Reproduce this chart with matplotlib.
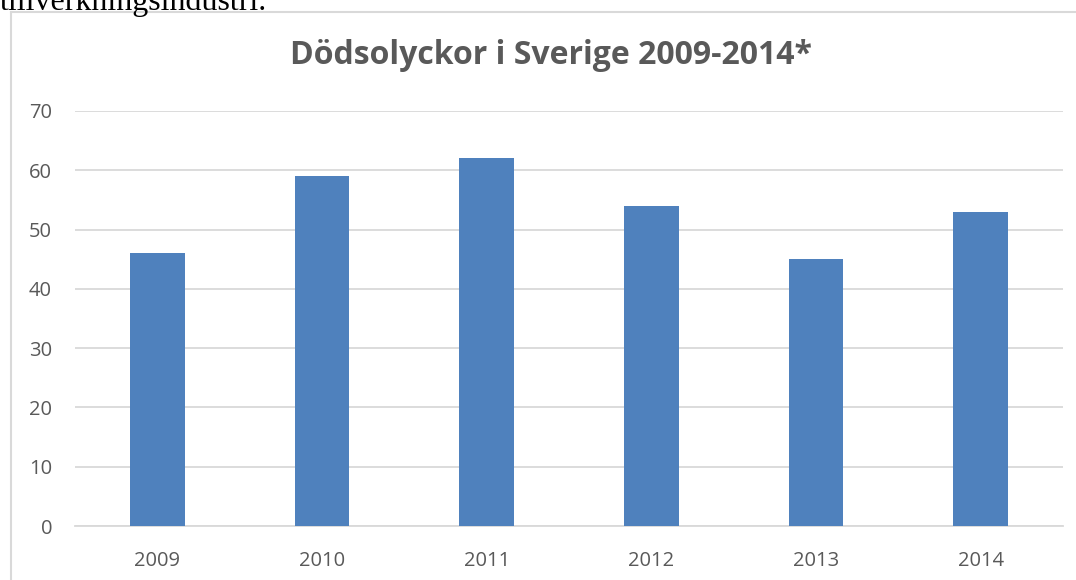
import matplotlib.pyplot as plt
from matplotlib.lines import Line2D

years = ['2009', '2010', '2011', '2012', '2013', '2014']
deaths = [46, 59, 62, 54, 45, 53]
yticks = [0, 10, 20, 30, 40, 50, 60, 70]

W, H = 1076, 580
fig = plt.figure(figsize=(W / 100, H / 100), dpi=100)

# text from the page above the chart, cut by the crop
fig.text(0 / W, 1 - 10 / H, 'tillverkningsindustri.', family='Liberation Serif',
         fontsize=23, color='black', ha='left', va='baseline')

# chart frame (only left and top edges are in view)
frame = '#D9D9D9'
fig.add_artist(Line2D([10.5 / W, 10.5 / W], [0, 1 - 12 / H], color=frame, lw=1.5,
                      transform=fig.transFigure))
fig.add_artist(Line2D([10.5 / W, 1], [1 - 12 / H, 1 - 12 / H], color=frame, lw=1.5,
                      transform=fig.transFigure))

ax = fig.add_axes([75 / W, 1 - 526 / H, (1063 - 75) / W, (526 - 111) / H])
x = range(len(years))
ax.bar(x, deaths, width=0.33, color='#4F81BD', zorder=3)

ax.set_xlim(-0.5, len(years) - 0.5)
ax.set_ylim(0, 70)
ax.set_yticks(yticks)
ax.set_xticks(list(x))
ax.set_xticklabels(years)
ax.grid(axis='y', color='#D9D9D9', lw=1.3, zorder=0)
for s in ['top', 'right', 'left']:
    ax.spines[s].set_visible(False)
ax.spines['bottom'].set_color('#D9D9D9')
ax.spines['bottom'].set_linewidth(1.3)
ax.tick_params(length=0, labelsize=14.5, labelcolor='#595959')
ax.tick_params(axis='y', pad=16.5)
ax.tick_params(axis='x', pad=18)
for lab in ax.get_xticklabels() + ax.get_yticklabels():
    lab.set_family('Open Sans')

fig.text(551 / W, 1 - 56 / H, 'Dödsolyckor i Sverige 2009-2014*', family='Open Sans',
         fontsize=23, fontweight='bold', color='#595959', ha='center', va='center')

fig.savefig('out.png', dpi=100)
